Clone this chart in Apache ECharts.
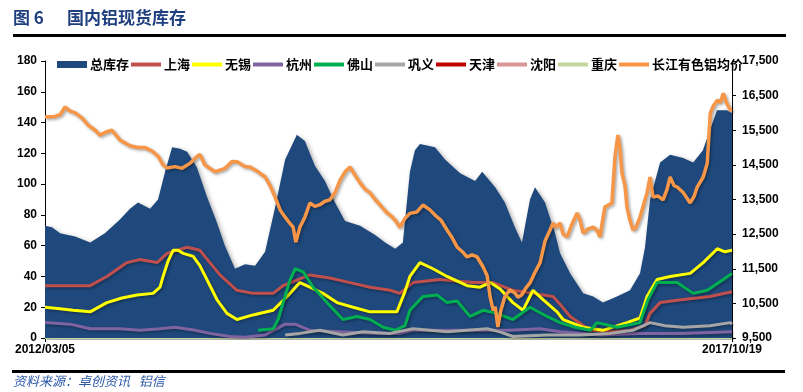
<!DOCTYPE html>
<html>
<head>
<meta charset="utf-8">
<script src="https://cdn.jsdelivr.net/npm/echarts@6/dist/echarts.min.js"></script>
<style>
html,body{margin:0;padding:0;background:#fff;}
#c{width:803px;height:392px;}
</style>
</head>
<body>
<div id="c"></div>
<script>
// x values are days since 2012/03/05 (end 2017/10/19 = day 2054)
var startDate = '2012/03/05';
var endDate = '2017/10/19';
var endDay = 2054;
var leftTicks = [0, 20, 40, 60, 80, 100, 120, 140, 160, 180];
var rightTicks = [9500, 10500, 11500, 12500, 13500, 14500, 15500, 16500, 17500];
var seriesNames = ['总库存', '上海', '无锡', '杭州', '佛山', '巩义', '天津', '沈阳', '重庆', '长江有色铝均价'];

var totalStock = [[0,73],[21,72],[45,68],[90,66],[135,62],[179,68],[224,77],[254,84],[278,88],[314,84],[338,90],[359,108],[380,124],[404,123],[425,121],[454,111],[484,92],[514,75],[538,60],[568,45],[598,48],[628,47],[658,56],[688,85],[718,116],[753,132],[777,128],[807,112],[837,102],[867,88],[897,76],[942,73],[987,67],[1017,62],[1047,58],[1070,62],[1091,108],[1106,122],[1121,126],[1166,124],[1196,116],[1241,107],[1286,102],[1307,108],[1346,98],[1375,88],[1405,72],[1426,62],[1450,90],[1465,98],[1495,88],[1525,68],[1540,55],[1570,42],[1609,29],[1639,27],[1668,23],[1710,27],[1749,31],[1779,42],[1794,59],[1809,90],[1839,114],[1869,119],[1908,117],[1938,114],[1967,122],[1988,135],[2009,148],[2039,148],[2054,146]];

var shanghai = [[0,34],[84,34],[135,34],[185,40],[245,49],[284,51],[335,49],[365,55],[425,59],[463,57],[493,49],[523,41],[574,31],[622,29],[682,29],[712,34],[792,41],[852,39],[912,36],[972,33],[1032,31],[1061,29],[1100,36],[1181,38],[1280,36],[1340,36],[1399,31],[1459,29],[1519,27],[1540,22],[1570,14],[1630,5],[1689,4],[1749,5],[1794,8],[1809,16],[1839,23],[1908,25],[1988,27],[2054,30]];

var wuxi = [[0,20],[45,19],[84,18],[135,17],[185,23],[230,26],[275,28],[323,29],[344,33],[353,40],[368,50],[383,57],[398,57],[413,55],[443,53],[463,47],[484,38],[514,25],[544,16],[574,12],[622,15],[682,18],[724,27],[762,36],[792,33],[831,29],[873,23],[921,20],[972,17],[1032,17],[1052,17],[1076,30],[1091,40],[1121,49],[1160,45],[1202,40],[1262,34],[1301,33],[1331,36],[1360,32],[1399,23],[1429,18],[1459,31],[1489,25],[1531,17],[1549,12],[1609,7],[1668,5],[1740,10],[1779,13],[1800,27],[1830,38],[1869,40],[1929,42],[1968,49],[2010,58],[2033,56],[2054,57]];

var hangzhou = [[0,10],[75,9],[135,6],[224,6],[284,5],[344,6],[389,7],[449,5],[493,3],[553,1],[598,0.5],[658,2],[718,9],[748,9],[792,5],[882,4],[993,3],[1061,3],[1100,5],[1181,5],[1301,5],[1390,5],[1480,6],[1540,4],[1659,2],[1779,3],[1899,3],[2054,4]];

var foshan = [[637,5],[682,6],[697,12],[712,23],[733,38],[748,45],[772,43],[802,33],[843,23],[891,12],[933,14],[972,12],[1011,7],[1047,5],[1076,8],[1091,18],[1130,27],[1172,28],[1202,23],[1232,24],[1271,14],[1310,18],[1351,16],[1399,12],[1450,20],[1501,14],[1540,10],[1585,7],[1630,5],[1651,10],[1710,7],[1779,10],[1803,25],[1830,36],[1890,36],[1938,29],[1980,31],[2028,38],[2054,42]];

var gongyi = [[718,2],[762,3],[822,5],[891,2],[951,4],[1032,3],[1100,6],[1202,4],[1322,6],[1360,4],[1399,1],[1501,2],[1600,2],[1689,3],[1758,5],[1809,10],[1854,8],[1908,7],[1988,8],[2049,10],[2054,9]];

var tianjin = [[0,0.5],[700,0.5],[1400,0.5],[2054,0.5]];
var shenyang = [[0,0.3],[700,0.3],[1400,0.3],[2054,0.3]];
var chongqing = [[0,0.2],[700,0.2],[1400,0.2],[2054,0.2]];

var price = [[0,15880],[30,15900],[45,15950],[60,16170],[75,16050],[90,16000],[111,15850],[129,15650],[150,15500],[164,15360],[182,15450],[200,15500],[224,15220],[254,15050],[278,15000],[299,15000],[320,14900],[338,14750],[353,14500],[365,14410],[389,14450],[410,14400],[434,14550],[455,14750],[463,14800],[478,14500],[508,14300],[538,14400],[559,14600],[577,14580],[598,14450],[613,14440],[637,14300],[658,14150],[673,13900],[688,13570],[703,13200],[718,12990],[733,12800],[742,12700],[750,12270],[762,12700],[777,12990],[792,13400],[807,13300],[822,13350],[837,13450],[852,13490],[867,13700],[882,14060],[897,14300],[912,14440],[927,14200],[942,13980],[957,13800],[972,13690],[987,13500],[1002,13340],[1023,13110],[1032,13050],[1047,12900],[1061,12700],[1076,12950],[1091,13100],[1112,13140],[1130,13340],[1151,13200],[1166,13050],[1184,12900],[1202,12620],[1217,12400],[1232,12130],[1247,12000],[1262,11840],[1277,11900],[1292,11840],[1310,11550],[1322,11300],[1331,10680],[1340,10300],[1346,10400],[1354,9820],[1363,10300],[1375,10700],[1390,10890],[1405,10800],[1414,10680],[1426,10750],[1438,10950],[1450,11090],[1465,11400],[1480,11670],[1495,12300],[1510,12620],[1519,12820],[1528,12700],[1540,12820],[1549,12500],[1561,12420],[1576,12800],[1591,13110],[1600,12900],[1609,12530],[1624,12650],[1639,12700],[1651,12600],[1659,12420],[1674,13280],[1695,13400],[1704,14730],[1713,15360],[1719,15000],[1725,14270],[1734,13900],[1740,13280],[1749,12900],[1758,12620],[1767,12700],[1779,12990],[1791,13400],[1800,13690],[1809,14150],[1818,13570],[1833,13600],[1848,13490],[1860,13800],[1869,14150],[1881,13900],[1890,13860],[1908,13700],[1929,13400],[1941,13600],[1950,13860],[1968,14150],[1980,14550],[1989,15990],[1998,16200],[2010,16370],[2019,16300],[2028,16570],[2037,16300],[2049,16080],[2054,16100]];

var colors = {
  total: '#1f497d', shanghai: '#c0504d', wuxi: '#ffff00', hangzhou: '#8064a2',
  foshan: '#00b050', gongyi: '#a6a6a6', tianjin: '#c00000', shenyang: '#d99694',
  chongqing: '#c3d69b', price: '#f79646'
};

var chart = echarts.init(document.getElementById('c'), null, {renderer: 'canvas'});
var shadow = {shadowBlur: 3, shadowColor: 'rgba(0,0,0,0.35)', shadowOffsetX: 1.5, shadowOffsetY: 1.5};
function lineSeries(name, data, color, yIdx, width, z) {
  return {
    name: name, type: 'line', data: data, yAxisIndex: yIdx || 0,
    symbol: 'none', smooth: false, animation: false, z: (z == null ? 2 : z),
    lineStyle: Object.assign({color: color, width: width || 3}, shadow),
    itemStyle: {color: color}
  };
}
var lineIcon = 'path://M0,0H30V4H0Z';
var boldFont = {fontFamily: '"Liberation Sans", Arial, sans-serif', fontWeight: 'bold', fontSize: 12, color: '#000'};

var option = {
  animation: false,
  backgroundColor: '#fff',
  grid: {left: 45, right: 71, top: 61, bottom: 54, containLabel: false},
  legend: {
    left: 57, top: 58, padding: 0, itemGap: 2, itemWidth: 30, itemHeight: 7,
    textStyle: {fontFamily: '"Noto Sans CJK SC", sans-serif', fontWeight: 'bold', fontSize: 13, color: '#000', padding: [0, 0, 0, -2]},
    data: seriesNames.map(function (n, i) { return {name: n, icon: i === 0 ? 'rect' : lineIcon}; })
  },
  xAxis: {
    type: 'value', min: 0, max: endDay,
    splitLine: {show: false},
    axisLine: {lineStyle: {color: '#000', width: 1}},
    axisTick: {show: true, length: 4, lineStyle: {color: '#000'}, customValues: [0, endDay]},
    axisLabel: Object.assign({}, boldFont, {customValues: [0, endDay], margin: 6,
      formatter: function (v) { return v === 0 ? startDate : (v === endDay ? endDate : ''); }})
  },
  yAxis: [{
    type: 'value', min: 0, max: 180, interval: 20, position: 'left',
    splitLine: {show: false},
    axisLine: {show: true, lineStyle: {color: '#000', width: 1}},
    axisTick: {show: true, length: 4, lineStyle: {color: '#000'}},
    axisLabel: Object.assign({}, boldFont, {margin: 8})
  }, {
    type: 'value', min: 9500, max: 17500, position: 'right',
    splitLine: {show: false},
    axisLine: {show: true, lineStyle: {color: '#000', width: 1}},
    axisTick: {show: true, length: 4, lineStyle: {color: '#000'}, customValues: rightTicks},
    axisLabel: Object.assign({}, boldFont, {margin: 10, customValues: rightTicks})
  }],
  series: [
    lineSeries(seriesNames[6], tianjin, colors.tianjin, 0, 3, 0),
    lineSeries(seriesNames[7], shenyang, colors.shenyang, 0, 3, 0),
    lineSeries(seriesNames[8], chongqing, colors.chongqing, 0, 3, 0),
    {
      name: seriesNames[0], type: 'line', data: totalStock, symbol: 'none', animation: false,
      lineStyle: {width: 0, color: colors.total},
      itemStyle: {color: colors.total},
      areaStyle: {color: colors.total, opacity: 1, shadowBlur: 5, shadowColor: 'rgba(0,0,0,0.35)', shadowOffsetX: 2, shadowOffsetY: 2},
      z: 1
    },
    lineSeries(seriesNames[1], shanghai, colors.shanghai, 0, 3),
    lineSeries(seriesNames[2], wuxi, colors.wuxi, 0, 3),
    lineSeries(seriesNames[3], hangzhou, colors.hangzhou, 0, 3),
    lineSeries(seriesNames[4], foshan, colors.foshan, 0, 3),
    lineSeries(seriesNames[5], gongyi, colors.gongyi, 0, 3),
    lineSeries(seriesNames[9], price, colors.price, 1, 3.5)
  ],
  graphic: [
    {type: 'text', left: 13, top: 9, style: {text: '图 6', fill: '#1f3f7f', font: 'bold 17px "Noto Sans CJK SC", sans-serif'}},
    {type: 'text', left: 67, top: 9, style: {text: '国内铝现货库存', fill: '#1f3f7f', font: 'bold 17px "Noto Sans CJK SC", sans-serif'}},
    {type: 'rect', shape: {x: 13, y: 34, width: 773, height: 3}, style: {fill: '#000'}},
    {type: 'rect', shape: {x: 12, y: 370, width: 773, height: 3}, style: {fill: '#000'}},
    {type: 'text', left: 13, top: 375, style: {text: '资料来源：卓创资讯   铝信', fill: '#2e5aa8', font: 'italic 13px "Noto Sans CJK SC", sans-serif'}}
  ]
};
chart.setOption(option);
</script>
</body>
</html>
